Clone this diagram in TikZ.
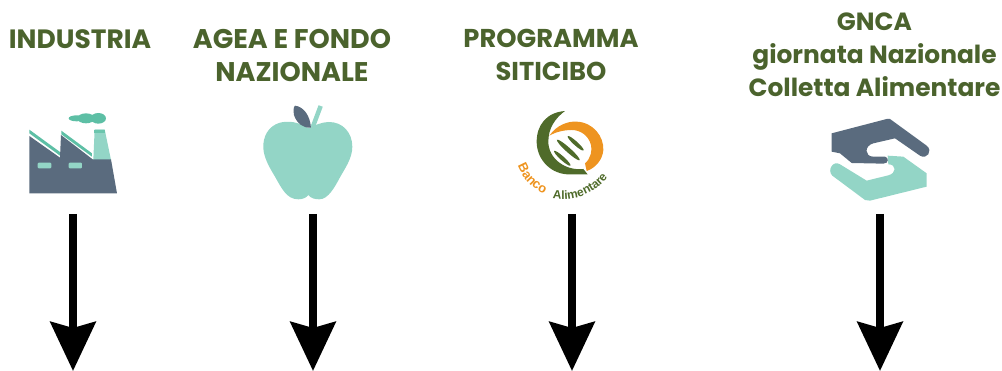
\documentclass[tikz,border=0pt]{standalone}
\usepackage{fontspec}
\setmainfont{Poppins}[BoldFont=Poppins Bold]
\newfontfamily\logofont{Liberation Sans}
\usetikzlibrary{arrows.meta,decorations.text}
\definecolor{titlegreen}{HTML}{4B632D}
\definecolor{slate}{HTML}{5A6B7E}
\definecolor{mint}{HTML}{93D5C6}
\definecolor{teal}{HTML}{5DBFA5}
\definecolor{logogreen}{HTML}{4F6B2A}
\definecolor{logoorange}{HTML}{EE9420}
\tikzset{
  title/.style={align=center,font=\bfseries\fontsize{#1}{33}\selectfont,text=titlegreen,inner sep=0pt,text depth=0pt},
  flow/.style={line width=8pt,draw=black,-{Stealth[length=49pt,width=45pt,inset=6pt]}},
  icon/.style={x=0.3333pt,y=-0.3333pt}
}
\begin{document}
\begin{tikzpicture}[x=1pt,y=-1pt]
\useasboundingbox (0,0) rectangle (1002,371);
% titles
\node[title=26.5] (t1) at (80,39.5) {INDUSTRIA};
\node[title=27] (t2) at (292,55.5) {AGEA E FONDO\\NAZIONALE};
\node[title=25.8] (t3) at (551,54.5) {PROGRAMMA\\SITICIBO};
\node[title=24.9] (t4) at (874.5,55) {GNCA\\giornata Nazionale\\Colletta Alimentare};
% factory
\begin{scope}[shift={(0,90)},icon]
\fill[teal] (230,85) ellipse (24 and 9) (258,85) ellipse (26 and 15) (295,85) ellipse (23 and 16);
\fill[mint] (284,118) -- (314,118) -- (333,210) -- (280,210) -- cycle;
\fill[teal!75!mint] (282,120) rectangle (316,129);
\fill[teal] (88,119) -- (180,186) -- (180,197) -- (88,130) -- cycle;
\fill[teal] (184,122) -- (276,190) -- (276,200) -- (184,133) -- cycle;
\fill[slate] (88,138) -- (180,203) -- (183,135) -- (278,208) -- (333,208) -- (351,310) -- (88,310) -- cycle;
\fill[mint,rounded corners=1pt] (113,218) rectangle (154,235) (206,218) rectangle (246,235);
\end{scope}
% apple
\begin{scope}[shift={(240,90)},icon]
\draw[mint,line width=4.5pt] (218,112) -- (242,48);
\fill[mint] (205,115) .. controls (175,95) and (145,92) .. (120,98) .. controls (85,108) and (68,140) .. (70,175) .. controls (72,205) and (90,235) .. (105,260) .. controls (125,295) and (140,328) .. (175,328) .. controls (190,328) and (200,322) .. (205,315) .. controls (212,325) and (225,328) .. (238,328) .. controls (265,328) and (285,290) .. (300,262) .. controls (315,235) and (337,205) .. (337,170) .. controls (337,130) and (310,95) .. (265,96) .. controls (245,97) and (225,105) .. (205,115) -- cycle;
\fill[slate] (165,47) .. controls (190,50) and (210,75) .. (213,113) .. controls (190,115) and (170,100) .. (162,75) .. controls (160,62) and (160,52) .. (165,47) -- cycle;
\end{scope}
% logo
\begin{scope}[shift={(505,95)},icon]
\fill[logogreen] (180,48) .. controls (125,52) and (95,90) .. (95,140) .. controls (95,195) and (140,240) .. (195,238) -- (248,238) -- (235,222) .. controls (180,228) and (130,190) .. (130,140) .. controls (130,100) and (150,70) .. (180,48) -- cycle;
\fill[logoorange] (133,122) .. controls (155,90) and (190,78) .. (215,80) .. controls (265,82) and (297,125) .. (295,165) .. controls (293,195) and (270,220) .. (245,228) -- (240,205) .. controls (258,190) and (262,165) .. (258,150) .. controls (250,120) and (225,105) .. (200,105) .. controls (175,105) and (150,112) .. (133,122) -- cycle;
\fill[logogreen,rotate around={-42:(172,190)}] (172,190) ellipse (33 and 6);
\fill[logogreen,rotate around={-42:(190,165)}] (190,165) ellipse (46 and 7);
\fill[logogreen,rotate around={-42:(212,145)}] (212,145) ellipse (32 and 6);
\path[postaction={decorate,decoration={text along path,text={|\logofont\bfseries\fontsize{13}{13}\selectfont\color{logoorange}|Banco},text align=left}}] (38,212) .. controls (55,255) and (85,285) .. (128,300);
\path[postaction={decorate,decoration={text along path,text={|\logofont\bfseries\fontsize{12}{12}\selectfont\color{logogreen}|Alimentare},text align=left}}] (143,310) .. controls (215,322) and (295,290) .. (328,212);
\end{scope}
% hands
\begin{scope}[shift={(815,105)},icon]
\fill[mint] (218,152) -- (265,155) -- (335,205) -- (335,245) -- (165,287) -- (150,285) -- (52,212) .. controls (35,195) and (55,165) .. (75,178) -- (155,227) -- (220,211) .. controls (245,205) and (245,178) .. (220,178) -- cycle;
\fill[slate] (50,85) -- (215,42) -- (225,42) -- (335,122) .. controls (355,138) and (335,165) .. (315,152) -- (240,100) -- (175,115) .. controls (148,122) and (148,155) .. (175,155) -- (210,155) .. controls (222,157) and (222,176) .. (205,176) -- (110,174) -- (75,145) -- (50,140) -- cycle;
\end{scope}
% arrows
\foreach \i/\x in {1/73,2/313,3/572,4/880}{
  \coordinate (a\i) at (\x,214);
  \coordinate (b\i) at (\x,371);
  \draw[flow] (a\i) -- (b\i);
}
\end{tikzpicture}
\end{document}
